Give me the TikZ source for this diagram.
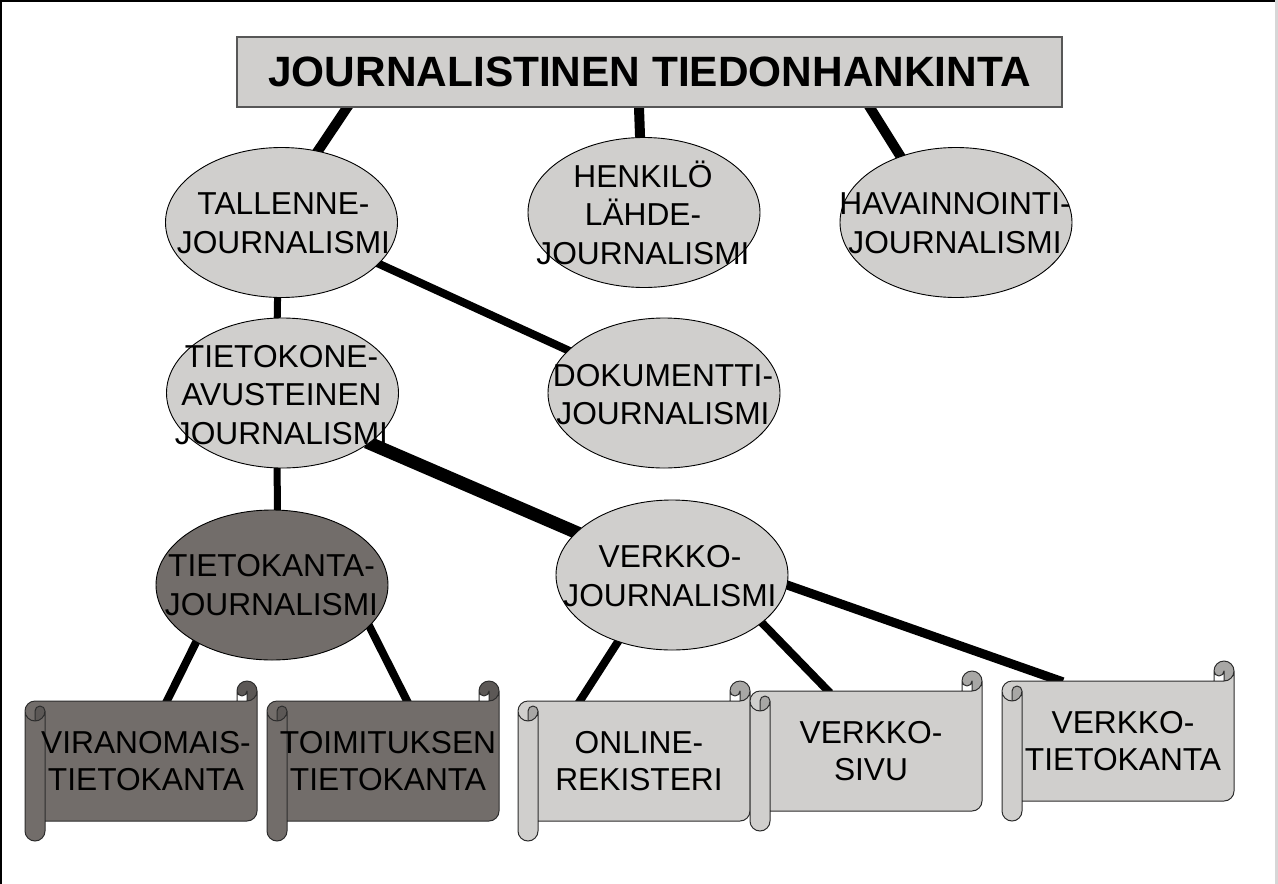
\documentclass[tikz,border=0pt]{standalone}
\usepackage{fontspec}
\setmainfont{Liberation Sans}
\usetikzlibrary{shapes.geometric}
\definecolor{lg}{RGB}{208,207,205}
\definecolor{lgd}{RGB}{168,167,165}
\definecolor{dg}{RGB}{114,109,106}
\definecolor{dgd}{RGB}{92,88,86}
\definecolor{edgec}{RGB}{45,45,45}
\definecolor{framegray}{RGB}{215,215,215}
\pgfdeclarelayer{paper}
\pgfdeclarelayer{background}
\pgfsetlayers{paper,background,main}
\tikzset{
  oval/.style={ellipse, draw=black, line width=0.9pt, fill=lg, minimum width=232pt, minimum height=150pt, inner sep=0pt},
  darkoval/.style={oval, fill=dg},
  ovtext/.style={font=\fontsize{31.7}{38.5}\selectfont, align=center, inner sep=0pt},
  scrolltext/.style={font=\fontsize{31.7}{37}\selectfont, align=center, inner sep=0pt, minimum width=200pt, minimum height=120pt},
  link/.style={line width=8pt, black, shorten <=-3pt, shorten >=-3pt},
  titlebox/.style={draw=edgec!80, line width=1.2pt, fill=lg, minimum width=825pt, minimum height=70pt, inner sep=0pt, font=\fontsize{42.4}{50}\selectfont\bfseries},
}
% #1 left, #2 top, #3 fill colour, #4 darker colour
\newcommand{\scrollshape}[4]{%
  \begin{scope}[shift={(#1,#2)}]
    \fill[#3] (232,10) arc[start angle=0, delta angle=90, radius=10] -- (10,20)
      arc[start angle=270, delta angle=-90, radius=10] -- (0,150)
      arc[start angle=180, delta angle=-180, radius=10] -- (20,140) -- (222,140)
      arc[start angle=90, delta angle=-90, radius=10] -- cycle;
    \fill[#4] (10,40) arc[start angle=90, delta angle=-90, radius=10]
      arc[start angle=0, delta angle=-180, radius=5] -- cycle;
    \fill[#4] (222,20) arc[start angle=90, delta angle=-270, radius=10]
      arc[start angle=180, delta angle=-180, radius=5] -- cycle;
    \draw[edgec, line width=1pt, line join=round]
      (0,30) arc[start angle=180, delta angle=90, radius=10] -- (212,20) -- (212,10)
      arc[start angle=180, delta angle=180, radius=10] -- (232,130)
      arc[start angle=0, delta angle=90, radius=10] -- (20,140) -- (20,150)
      arc[start angle=0, delta angle=180, radius=10] -- cycle
      (212,20) -- (222,20) arc[start angle=90, delta angle=-90, radius=10]
      (222,20) -- (222,10) arc[start angle=0, delta angle=180, radius=5]
      (10,40) -- (10,30) arc[start angle=180, delta angle=180, radius=5]
      arc[start angle=0, delta angle=180, radius=10]
      (20,30) -- (20,140);
  \end{scope}}
\begin{document}
\begin{tikzpicture}[x=1pt, y=-1pt]
\useasboundingbox (0,0) rectangle (1278,884);
\begin{pgfonlayer}{paper}
\fill[white] (0,0) rectangle (1278,884);
\end{pgfonlayer}
% frame
\draw[black, line width=2pt] (1,884) -- (1,1) -- (1276,1);
\draw[framegray, line width=2.5pt] (1276.7,0) -- (1276.7,884);

% title
\node[titlebox] (title) at (649.5,72) {JOURNALISTINEN TIEDONHANKINTA};

% ellipses
\node[oval] (tallenne) at (281.5,222.5) {};
\node[ovtext] (tallenneT) at (283.5,223) {TALLENNE-\\JOURNALISMI};
\node[oval] (henkilo) at (644,212.5) {};
\node[ovtext] (henkiloT) at (643,212.5) {HENKILÖ\\LÄHDE-\\JOURNALISMI};
\node[oval] (havainnointi) at (956,222.5) {};
\node[ovtext] (havainnointiT) at (955,223) {HAVAINNOINTI-\\JOURNALISMI};
\node[oval] (tietokone) at (282.5,393) {};
\node[ovtext] (tietokoneT) at (281.5,395) {TIETOKONE-\\AVUSTEINEN\\JOURNALISMI};
\node[oval] (dokumentti) at (664,393) {};
\node[ovtext] (dokumenttiT) at (663,394.5) {DOKUMENTTI-\\JOURNALISMI};
\node[darkoval] (tietokanta) at (272,585) {};
\node[ovtext] (tietokantaT) at (271.5,585) {TIETOKANTA-\\JOURNALISMI};
\node[oval] (verkko) at (672,575) {};
\node[ovtext] (verkkoT) at (670,576) {VERKKO-\\JOURNALISMI};

% scrolls
\scrollshape{25}{681}{dg}{dgd}
\node[scrolltext] (viranomais) at (146,761) {VIRANOMAIS-\\TIETOKANTA};
\scrollshape{267}{681}{dg}{dgd}
\node[scrolltext] (toimituksen) at (388,761) {TOIMITUKSEN\\TIETOKANTA};
\scrollshape{518}{681}{lg}{lgd}
\node[scrolltext] (online) at (639,761) {ONLINE-\\REKISTERI};
\scrollshape{750}{671}{lg}{lgd}
\node[scrolltext] (sivu) at (871,751) {VERKKO-\\SIVU};
\scrollshape{1002}{661}{lg}{lgd}
\node[scrolltext] (vtietokanta) at (1123,741) {VERKKO-\\TIETOKANTA};

% connectors
\begin{pgfonlayer}{background}
\draw[link, line width=10pt] ([xshift=-302.5pt]title.south) -- (tallenne.63);
\draw[link, line width=10pt] ([xshift=-10.5pt]title.south) -- (henkilo.93.8);
\draw[link, line width=10pt] ([xshift=220.5pt]title.south) -- (havainnointi.130.3);
\draw[link, line width=7pt] (tallenne.-93.4) -- (tietokone.94.2);
\draw[link, line width=8pt] (tallenne.-23.7) -- (dokumentti.156.3);
\draw[link, line width=7pt] (tietokone.-94.2) -- (tietokanta.86.2);
\draw[link, line width=13pt] (tietokone.-30.5) -- (verkko.156.7);
\draw[link] (tietokanta.-143.9) -- ([xshift=21pt]viranomais.north);
\draw[link] (tietokanta.-23.7) -- ([xshift=19pt]toimituksen.north);
\draw[link] (verkko.-129.9) -- ([xshift=-59pt]online.north);
\draw[link] (verkko.-28.1) -- ([xshift=-43pt]sivu.north);
\draw[link, line width=9pt] (verkko.-5) -- ([xshift=-63pt]vtietokanta.north);
\end{pgfonlayer}
\end{tikzpicture}
\end{document}
